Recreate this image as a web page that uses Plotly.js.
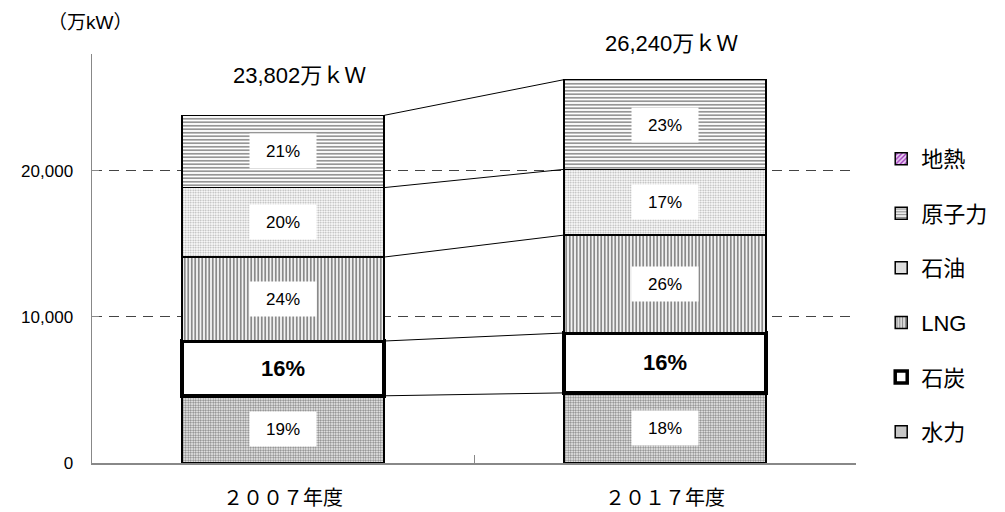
<!DOCTYPE html>
<html>
<head>
<meta charset="utf-8">
<script src="https://cdn.plot.ly/plotly-3.0.1.min.js"></script>
<style>html,body{margin:0;padding:0;background:#fff;}#chart{width:1005px;height:512px;}</style>
</head>
<body>
<div id="chart"></div>
<script>
// ---- data (万kW) ----
const categories = ["２００７年度", "２０１７年度"];
const hydro      = [4600, 4800];
const coal       = [3750, 4100];
const lng        = [5750, 6700];
const oil        = [4755, 4500];
const nuclear    = [4947, 6140];
const geothermal = [0, 0];
const hydroPct   = ["19%", "18%"];
const coalPct    = ["16%", "16%"];
const lngPct     = ["24%", "26%"];
const oilPct     = ["20%", "17%"];
const nuclearPct = ["21%", "23%"];
const totalLabels = ["23,802万ｋＷ", "26,240万ｋＷ"];

const FONT = "Liberation Sans, Arial, Noto Sans CJK JP, sans-serif";
const barW = 0.53;

const series = [
  {name: "水力", y: hydro, pct: hydroPct, pattern: {shape: ".", fgcolor: "#808080", bgcolor: "#fff", size: 2.5, solidity: 0.5}, lw: 1.5},
  {name: "石炭", y: coal, pct: coalPct, pattern: null, lw: 3.5},
  {name: "LNG", y: lng, pct: lngPct, pattern: {shape: "|", fgcolor: "#8a8a8a", bgcolor: "#fff", size: 3.5, solidity: 0.55}, lw: 1.5},
  {name: "石油", y: oil, pct: oilPct, pattern: {shape: ".", fgcolor: "#b0b0b0", bgcolor: "#fff", size: 2.5, solidity: 0.4}, lw: 1.5},
  {name: "原子力", y: nuclear, pct: nuclearPct, pattern: {shape: "-", fgcolor: "#8a8a8a", bgcolor: "#fff", size: 3.5, solidity: 0.45}, lw: 1.5},
  {name: "地熱", y: geothermal, pct: null, pattern: {shape: "/", fgcolor: "#9a30b8", bgcolor: "#ead0f2", size: 4, solidity: 0.4}, lw: 1.5}
];

const traces = series.map((s, i) => {
  const marker = {color: "#fff", line: {color: "#000", width: s.lw}};
  if (s.pattern) marker.pattern = s.pattern;
  return {
    type: "bar", x: categories, y: s.y, name: s.name, width: barW,
    marker: marker, legendgroup: "g" + i, legendrank: 100 - i, hoverinfo: "skip"
  };
});

// annotations
const annotations = [];
const cum = categories.map(() => 0);
const boundaries = [];
series.forEach((s, si) => {
  const tops = [];
  categories.forEach((c, ci) => {
    const base = cum[ci];
    const v = s.y[ci];
    if (s.pct && v > 0) {
      const isCoal = s.name === "石炭";
      const a = {
        x: c, y: base + v / 2, xref: "x", yref: "y", text: s.pct[ci], showarrow: false,
        font: {family: FONT, size: isCoal ? 22 : 17, color: "#000"}
      };
      if (isCoal) { a.text = "<b>" + s.pct[ci] + "</b>"; }
      else { a.bgcolor = "#fff"; a.width = 58; a.height = 26; a.borderpad = 4; }
      annotations.push(a);
    }
    cum[ci] = base + v;
    tops.push(cum[ci]);
  });
  if (s.y.some(v => v > 0)) boundaries.push(tops);
});

const shifts = [{xs: 16, ys: 25}, {xs: 6, ys: 22}];
categories.forEach((c, ci) => {
  annotations.push({
    x: c, y: cum[ci], xref: "x", yref: "y", yanchor: "bottom", text: totalLabels[ci],
    showarrow: false, xshift: shifts[ci].xs, yshift: shifts[ci].ys,
    font: {family: FONT, size: 22, color: "#000"}
  });
});

annotations.push({
  xref: "paper", yref: "paper", x: -0.002, y: 1.078, xanchor: "center", yanchor: "middle",
  text: "（万kW）", showarrow: false, font: {family: FONT, size: 19, color: "#000"}
});

// connector lines
const shapes = boundaries.map(tops => ({
  type: "line", xref: "x", yref: "y",
  x0: 0 + barW / 2, x1: 1 - barW / 2, y0: tops[0], y1: tops[1],
  line: {color: "#000", width: 1}
}));

const layout = {
  width: 1005, height: 512,
  margin: {l: 92, r: 145, t: 54, b: 49},
  paper_bgcolor: "#fff", plot_bgcolor: "#fff",
  barmode: "stack",
  font: {family: FONT, color: "#000"},
  showlegend: true,
  legend: {
    x: 1.033, xanchor: "left", y: 0.795, yanchor: "top",
    traceorder: "grouped", tracegroupgap: 23,
    font: {family: FONT, size: 22, color: "#000"}, itemwidth: 30
  },
  xaxis: {
    type: "category", range: [-0.5, 1.5], showline: true, linecolor: "#888", linewidth: 1.5,
    ticks: "inside", tickson: "boundaries", ticklen: 8, tickcolor: "#888",
    showgrid: false, ticklabelstandoff: 16,
    tickfont: {family: "Noto Sans CJK JP, sans-serif", size: 20, color: "#000"}
  },
  yaxis: {
    range: [0, 28000], tickvals: [0, 10000, 20000], tickformat: ",",
    showline: true, linecolor: "#888", linewidth: 1.5,
    ticks: "inside", ticklen: 7, tickcolor: "#888",
    showgrid: true, gridcolor: "#444", gridwidth: 1, griddash: "10px,7px",
    zeroline: false, ticklabelstandoff: 14,
    tickfont: {family: FONT, size: 17, color: "#000"}
  },
  annotations: annotations,
  shapes: shapes
};

Plotly.newPlot("chart", traces, layout, {displayModeBar: false, staticPlot: true});
</script>
</body>
</html>
